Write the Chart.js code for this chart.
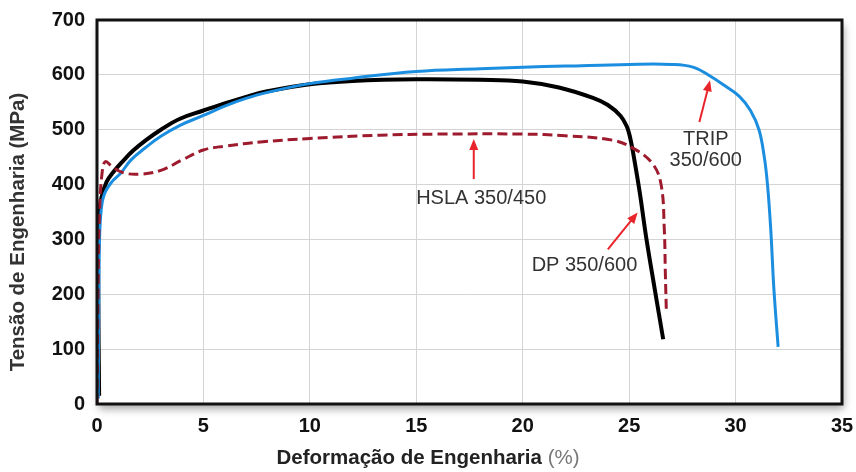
<!DOCTYPE html>
<html>
<head>
<meta charset="utf-8">
<script src="https://cdn.jsdelivr.net/npm/chart.js@4"></script>
<style>
  html, body { margin: 0; padding: 0; background: #fff; }
  #wrap { width: 856px; height: 472px; }
</style>
</head>
<body>
<div id="wrap"><canvas id="grafico" width="856" height="472"></canvas></div>
<script>
// Curvas tensão x deformação
const tripX = [0.06, 0.08, 0.12, 0.2, 0.35, 0.7, 1.1, 1.6, 2.3, 3, 3.9, 5, 6, 7, 8, 10, 12, 15, 18, 20, 22, 25, 27, 28, 28.8, 29.5, 30.2, 30.7, 31.1, 31.35, 31.5, 31.65, 31.8, 32.0];
const tripY = [10, 150, 300, 355, 383, 405, 420, 445, 468, 488, 508, 526, 543, 557, 568, 584, 594, 606, 611, 614, 616, 619, 619, 614, 598, 580, 560, 535, 500, 450, 400, 320, 210, 104];

const dpX = [0.1, 0.06, 0.07, 0.2, 0.45, 0.75, 1.2, 1.7, 2.3, 3, 3.9, 5, 6, 7, 8, 10, 12, 15, 18, 20, 21.7, 23.3, 24.0, 24.6, 24.9, 25.05, 25.2, 25.5, 25.8, 26.2, 26.6];
const dpY = [15, 200, 330, 375, 405, 422, 442, 462, 481, 500, 520, 535, 548, 560, 570, 583, 589, 592, 591, 588, 577, 558, 545, 525, 505, 485, 455, 385, 304, 210, 118];

const hslaX = [0, 0.05, 0.12, 0.25, 0.4, 0.7, 1.2, 2, 3, 4, 5, 6, 7.8, 10, 13.3, 16, 20, 22, 24.2, 25.2, 26.1, 26.5, 26.65, 26.7, 26.75];
const hslaY = [0, 200, 350, 425, 442, 433, 422, 419, 426, 445, 463, 470, 478, 484, 490, 492, 492, 489, 481, 466, 438, 400, 320, 240, 166];

const xTicks = [0, 5, 10, 15, 20, 25, 30, 35];
const yTicks = [0, 100, 200, 300, 400, 500, 600, 700];

// rótulos com seta: texto, posição do texto, base e ponta da seta (em unidades do gráfico)
const rotulos = [
  { linhas: ["HSLA 350/450"], x: 18.05, y: 375, de: [17.7, 410], para: [17.7, 483] },
  { linhas: ["DP 350/600"], x: 22.9, y: 252, de: [24.0, 282], para: [25.4, 349] },
  { linhas: ["TRIP", "350/600"], x: 28.6, y: 482, de: [28.3, 514], para: [28.8, 590] }
];

function pontos(xs, ys) {
  return xs.map((x, i) => ({ x: x, y: ys[i] }));
}

const fonte = "'Liberation Sans', Arial, sans-serif";

const fundo = {
  id: "fundo",
  beforeDraw(chart) {
    const a = chart.chartArea, ctx = chart.ctx;
    ctx.save();
    ctx.shadowColor = "rgba(0,0,0,0.35)";
    ctx.shadowBlur = 8;
    ctx.shadowOffsetX = 2;
    ctx.shadowOffsetY = 5;
    ctx.fillStyle = "#fff";
    ctx.fillRect(a.left, a.top, a.right - a.left, a.bottom - a.top);
    ctx.restore();
  },
  afterDatasetsDraw(chart) {
    const a = chart.chartArea, ctx = chart.ctx;
    const sx = chart.scales.x, sy = chart.scales.y;
    ctx.save();
    ctx.strokeStyle = "#111";
    ctx.lineWidth = 3;
    ctx.strokeRect(a.left, a.top, a.right - a.left, a.bottom - a.top);

    // título do eixo x: parte em negrito e "(%)" mais claro
    const t1 = "Deformação de Engenharia ", t2 = "(%)";
    ctx.textBaseline = "middle";
    ctx.font = "bold 20.5px " + fonte;
    const w1 = ctx.measureText(t1).width;
    ctx.font = "20.5px " + fonte;
    const w2 = ctx.measureText(t2).width;
    const x0 = 428 - (w1 + w2) / 2;
    ctx.textAlign = "left";
    ctx.font = "bold 20.5px " + fonte;
    ctx.fillStyle = "#222";
    ctx.fillText(t1, x0, 458);
    ctx.font = "20.5px " + fonte;
    ctx.fillStyle = "#777";
    ctx.fillText(t2, x0 + w1, 458);

    // título do eixo y
    ctx.save();
    ctx.translate(18, 232);
    ctx.rotate(-Math.PI / 2);
    ctx.textAlign = "center";
    ctx.font = "bold 20.5px " + fonte;
    ctx.fillStyle = "#333";
    ctx.fillText("Tensão de Engenharia (MPa)", 0, 0);
    ctx.restore();

    ctx.font = "20px " + fonte;
    ctx.textAlign = "center";
    rotulos.forEach(r => {
      ctx.fillStyle = "#333";
      r.linhas.forEach((t, i) => {
        ctx.fillText(t, sx.getPixelForValue(r.x), sy.getPixelForValue(r.y) + i * 21);
      });
      const ax = sx.getPixelForValue(r.de[0]), ay = sy.getPixelForValue(r.de[1]);
      const bx = sx.getPixelForValue(r.para[0]), by = sy.getPixelForValue(r.para[1]);
      const ang = Math.atan2(by - ay, bx - ax);
      ctx.strokeStyle = "#e8252b";
      ctx.fillStyle = "#e8252b";
      ctx.lineWidth = 2;
      ctx.beginPath();
      ctx.moveTo(ax, ay);
      ctx.lineTo(bx - 6 * Math.cos(ang), by - 6 * Math.sin(ang));
      ctx.stroke();
      ctx.beginPath();
      ctx.moveTo(bx, by);
      ctx.lineTo(bx - 11 * Math.cos(ang) + 4.5 * Math.sin(ang), by - 11 * Math.sin(ang) - 4.5 * Math.cos(ang));
      ctx.lineTo(bx - 11 * Math.cos(ang) - 4.5 * Math.sin(ang), by - 11 * Math.sin(ang) + 4.5 * Math.cos(ang));
      ctx.closePath();
      ctx.fill();
    });
    ctx.restore();
  }
};

const linha = { showLine: true, pointRadius: 0, tension: 0.4 };

new Chart(document.getElementById("grafico"), {
  type: "scatter",
  data: {
    datasets: [
      Object.assign({
        label: "HSLA 350/450",
        data: pontos(hslaX, hslaY),
        borderColor: "#9e1b2e",
        borderWidth: 3,
        borderDash: [10, 5]
      }, linha),
      Object.assign({
        label: "TRIP 350/600",
        data: pontos(tripX, tripY),
        borderColor: "#1b8ee0",
        borderWidth: 3
      }, linha),
      Object.assign({
        label: "DP 350/600",
        data: pontos(dpX, dpY),
        borderColor: "#000",
        borderWidth: 4
      }, linha)
    ]
  },
  options: {
    responsive: false,
    animation: false,
    layout: { padding: { top: 20, right: 14, left: 0, bottom: 0 } },
    plugins: { legend: { display: false }, tooltip: { enabled: false } },
    scales: {
      x: {
        type: "linear",
        min: xTicks[0],
        max: xTicks[xTicks.length - 1],
        afterBuildTicks: s => { s.ticks = xTicks.map(v => ({ value: v })); },
        afterFit: s => { s.height = 68; s.paddingLeft = 0; s.paddingRight = 0; },
        grid: { color: "#d4d4d4", drawTicks: false },
        border: { display: false },
        ticks: { color: "#111", padding: 10, font: { size: 20, weight: "bold", family: fonte } }
      },
      y: {
        min: yTicks[0],
        max: yTicks[yTicks.length - 1],
        afterBuildTicks: s => { s.ticks = yTicks.map(v => ({ value: v })); },
        afterFit: s => { s.width = 97; s.paddingTop = 0; s.paddingBottom = 0; },
        grid: { color: "#d4d4d4", drawTicks: false },
        border: { display: false },
        ticks: { color: "#111", padding: 12, font: { size: 20, weight: "bold", family: fonte } }
      }
    }
  },
  plugins: [fundo]
});
</script>
</body>
</html>
